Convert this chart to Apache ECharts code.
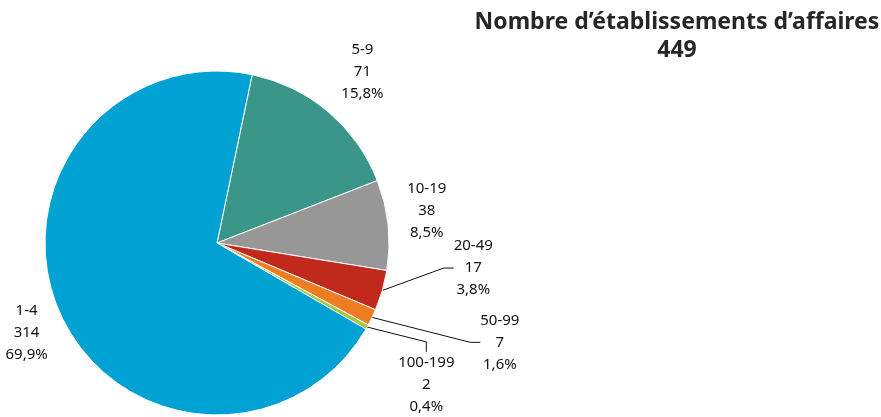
<!DOCTYPE html>
<html>
<head>
    <meta charset="UTF-8">
    <title>Nombre d'établissements d'affaires</title>
    <script src="https://cdn.jsdelivr.net/npm/echarts@6/dist/echarts.min.js"></script>
    <style>
        html, body { margin: 0; padding: 0; background: #fff; }
        #pie { width: 881px; height: 417px; }
    </style>
</head>
<body>
    <div id="pie"></div>
    <script>
        // tailles d'établissements, dans l'ordre horaire à partir du haut
        var categories = ['5-9', '10-19', '20-49', '50-99', '100-199', '1-4'];
        var counts = [71, 38, 17, 7, 2, 314];
        var percents = ['15,8%', '8,5%', '3,8%', '1,6%', '0,4%', '69,9%'];
        var total = 449;

        var colors = ['#3a9689', '#979797', '#c1291d', '#ee7d22', '#a8c73a', '#00a1d3'];
        // petits décalages des étiquettes par rapport au rayon moyen
        var nudges = [[0, 0], [-14, -9], [40, -37], [80, 2], [13, 32], [15, -2]];
        var withLine = [false, false, true, true, true, false];

        var cx = 217, cy = 243, r = 172, startAngle = 78.2, labelR = 225;

        var sum = counts.reduce(function (a, b) { return a + b; }, 0);
        var mids = [];
        var acc = 0;
        counts.forEach(function (v) {
            mids.push((90 - startAngle) + (acc + v / 2) / sum * 360);
            acc += v;
        });

        var chart = echarts.init(document.getElementById('pie'), null, { renderer: 'canvas' });

        var data = categories.map(function (c, i) {
            return {
                name: c,
                value: counts[i],
                itemStyle: { color: colors[i] },
                labelLine: { show: withLine[i] }
            };
        });

        chart.setOption({
            animation: false,
            title: {
                text: 'Nombre d\u2019établissements d\u2019affaires\n' + total,
                left: 672,
                top: 3,
                textAlign: 'center',
                textStyle: {
                    fontFamily: 'Noto Sans',
                    fontWeight: 'bold',
                    fontSize: 23,
                    lineHeight: 28,
                    color: '#262626'
                }
            },
            series: [{
                type: 'pie',
                center: [cx, cy],
                radius: r,
                startAngle: startAngle,
                clockwise: true,
                avoidLabelOverlap: false,
                itemStyle: { borderColor: '#fff', borderWidth: 1 },
                label: {
                    show: true,
                    position: 'outside',
                    formatter: function (p) {
                        return p.name + '\n' + p.value + '\n' + percents[p.dataIndex];
                    },
                    fontFamily: 'Noto Sans',
                    fontSize: 15,
                    lineHeight: 22,
                    color: '#111',
                    align: 'center'
                },
                labelLine: {
                    length: 10,
                    length2: 10,
                    lineStyle: { color: '#111', width: 1 }
                },
                labelLayout: function (params) {
                    var i = params.dataIndex;
                    var a = mids[i] * Math.PI / 180;
                    return {
                        x: cx + labelR * Math.sin(a) + nudges[i][0],
                        y: cy - labelR * Math.cos(a) + nudges[i][1],
                        align: 'center',
                        verticalAlign: 'middle'
                    };
                },
                data: data
            }]
        });
    </script>
</body>
</html>
